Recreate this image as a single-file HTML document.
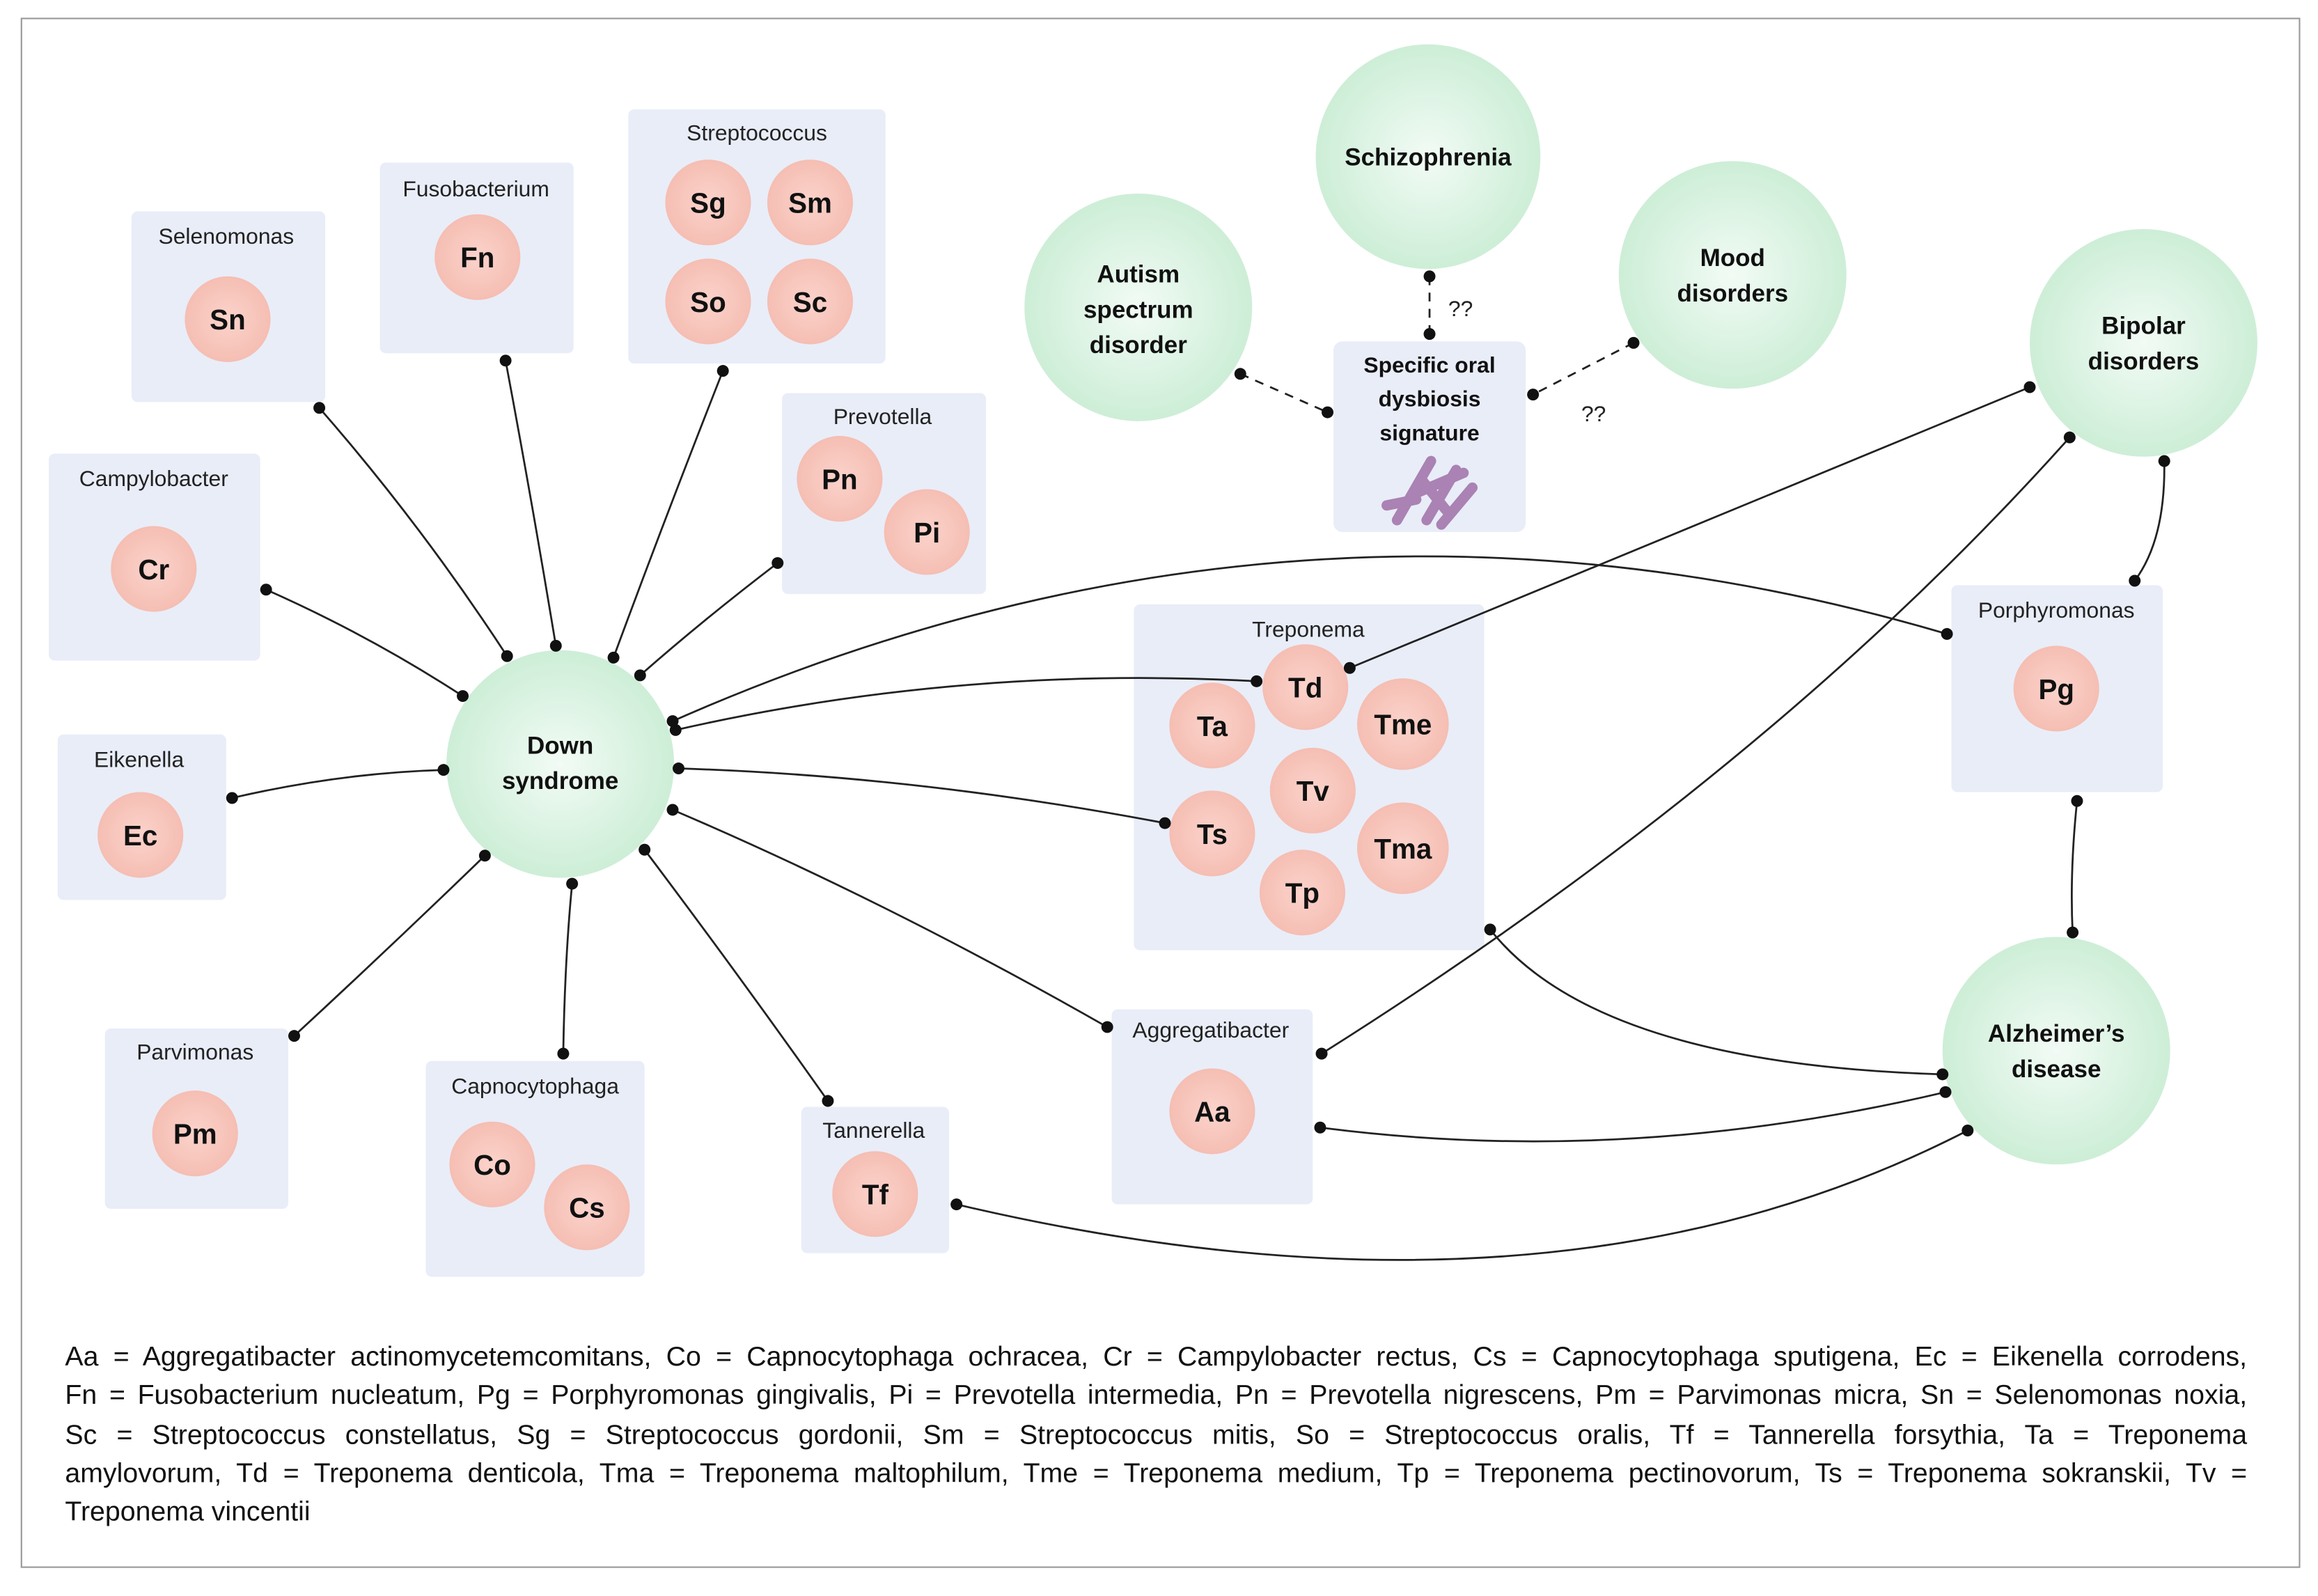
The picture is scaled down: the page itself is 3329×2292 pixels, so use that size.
<!DOCTYPE html>
<html><head><meta charset="utf-8"><style>
html,body{margin:0;padding:0;background:#fff;}
#wrap{width:1568px;height:1080px;position:relative;transform:scale(2.1231,2.1222);transform-origin:0 0;font-family:"Liberation Sans",sans-serif;}
svg{position:absolute;left:0;top:0;}
.leg{position:absolute;left:44px;width:1476px;font-size:18.5px;color:#111;}
.leg div{height:26.3px;line-height:26.3px;text-align:justify;text-align-last:justify;white-space:nowrap;}
.leg div.last{text-align-last:left;}
</style></head><body><div id="wrap">
<svg width="1568" height="1080" viewBox="0 0 1568 1080" font-family="Liberation Sans, sans-serif">
<defs>
<radialGradient id="g" cx="50%" cy="50%" r="50%"><stop offset="0" stop-color="#f2fbf5"/><stop offset="1" stop-color="#cdeed7"/></radialGradient>
<radialGradient id="p" cx="50%" cy="50%" r="50%"><stop offset="0" stop-color="#fbd3cb"/><stop offset="1" stop-color="#f5beb3"/></radialGradient>
</defs>
<rect x="14.5" y="12.5" width="1541" height="1048" fill="#fff" stroke="#999" stroke-width="1"/>
<g fill="#e9edf8">
<rect x="89" y="143" width="131" height="129" rx="4"/>
<rect x="257" y="110" width="131" height="129" rx="4"/>
<rect x="425" y="74" width="174" height="172" rx="4"/>
<rect x="529" y="266" width="138" height="136" rx="4"/>
<rect x="33" y="307" width="143" height="140" rx="4"/>
<rect x="39" y="497" width="114" height="112" rx="4"/>
<rect x="71" y="696" width="124" height="122" rx="4"/>
<rect x="288" y="718" width="148" height="146" rx="4"/>
<rect x="542" y="749" width="100" height="99" rx="4"/>
<rect x="752" y="683" width="136" height="132" rx="4"/>
<rect x="767" y="409" width="237" height="234" rx="4"/>
<rect x="1320" y="396" width="143" height="140" rx="4"/>
<rect x="902" y="231" width="130" height="129" rx="6"/>
</g>
<g fill="url(#g)">
<circle cx="379" cy="517" r="77"/><circle cx="966" cy="106" r="76"/><circle cx="770" cy="208" r="77"/>
<circle cx="1172" cy="186" r="77"/><circle cx="1450" cy="232" r="77"/><circle cx="1391" cy="711" r="77"/>
</g>
<g fill="url(#p)">
<circle cx="154" cy="216" r="29"/><circle cx="323" cy="174" r="29"/>
<circle cx="479" cy="137" r="29"/><circle cx="548" cy="137" r="29"/><circle cx="479" cy="204" r="29"/><circle cx="548" cy="204" r="29"/>
<circle cx="568" cy="324" r="29"/><circle cx="627" cy="360" r="29"/><circle cx="104" cy="385" r="29"/>
<circle cx="95" cy="565" r="29"/><circle cx="132" cy="767" r="29"/><circle cx="333" cy="788" r="29"/><circle cx="397" cy="817" r="29"/>
<circle cx="592" cy="808" r="29"/><circle cx="820" cy="752" r="29"/>
<circle cx="883" cy="465" r="29"/><circle cx="820" cy="491" r="29"/><circle cx="949" cy="490" r="31"/><circle cx="888" cy="535" r="29"/>
<circle cx="820" cy="564" r="29"/><circle cx="949" cy="574" r="31"/><circle cx="881" cy="604" r="29"/><circle cx="1391" cy="466" r="29"/>
</g>
<g stroke="#a070a8" stroke-width="7" stroke-linecap="round" opacity="0.85">
<line x1="945" y1="352" x2="968" y2="312"/><line x1="955" y1="335" x2="990" y2="320"/><line x1="965" y1="352" x2="985" y2="318"/>
<line x1="975" y1="355" x2="996" y2="330"/><line x1="938" y1="342" x2="958" y2="338"/><line x1="962" y1="325" x2="978" y2="345"/>
</g>
<g stroke="#222" stroke-width="1.3" fill="none">
<path d="M216,276 Q285,355 343,444"/><path d="M342,244 Q360,340 376,437"/><path d="M489,251 Q450,350 415,445"/>
<path d="M526,381 Q475,420 433,457"/><path d="M180,399 Q250,430 313,471"/><path d="M157,540 Q230,523 300,521"/>
<path d="M199,701 Q265,640 328,579"/><path d="M381,713 Q382,650 387,598"/><path d="M560,745 Q500,660 436,575"/>
<path d="M749,695 Q600,610 455,548"/><path d="M788,557 Q620,525 459,520"/><path d="M850,461 Q650,450 457,494"/>
<path d="M455,488 Q880,300 1317,429"/><path d="M913,452 L1373,262"/><path d="M894,713 Q1200,520 1400,296"/>
<path d="M893,763 Q1100,790 1316,739"/><path d="M647,815 Q1050,910 1331,765"/><path d="M1008,629 Q1080,720 1314,727"/>
<path d="M1464,312 Q1465,365 1444,393"/><path d="M1405,542 Q1400,590 1402,631"/>
</g>
<g stroke="#222" stroke-width="1.3" fill="none" stroke-dasharray="6,5">
<path d="M967,187 L967,226"/><path d="M839,253 L898,279"/><path d="M1105,232 L1037,267"/>
</g>
<g fill="#111">
<circle cx="216" cy="276" r="4"/><circle cx="343" cy="444" r="4"/><circle cx="342" cy="244" r="4"/><circle cx="376" cy="437" r="4"/>
<circle cx="489" cy="251" r="4"/><circle cx="415" cy="445" r="4"/><circle cx="526" cy="381" r="4"/><circle cx="433" cy="457" r="4"/>
<circle cx="180" cy="399" r="4"/><circle cx="313" cy="471" r="4"/><circle cx="157" cy="540" r="4"/><circle cx="300" cy="521" r="4"/>
<circle cx="199" cy="701" r="4"/><circle cx="328" cy="579" r="4"/><circle cx="381" cy="713" r="4"/><circle cx="387" cy="598" r="4"/>
<circle cx="560" cy="745" r="4"/><circle cx="436" cy="575" r="4"/><circle cx="749" cy="695" r="4"/><circle cx="455" cy="548" r="4"/>
<circle cx="788" cy="557" r="4"/><circle cx="459" cy="520" r="4"/><circle cx="850" cy="461" r="4"/><circle cx="457" cy="494" r="4"/>
<circle cx="455" cy="488" r="4"/><circle cx="1317" cy="429" r="4"/><circle cx="913" cy="452" r="4"/><circle cx="1373" cy="262" r="4"/>
<circle cx="894" cy="713" r="4"/><circle cx="1400" cy="296" r="4"/><circle cx="893" cy="763" r="4"/><circle cx="1316" cy="739" r="4"/>
<circle cx="647" cy="815" r="4"/><circle cx="1331" cy="765" r="4"/><circle cx="1008" cy="629" r="4"/><circle cx="1314" cy="727" r="4"/>
<circle cx="1464" cy="312" r="4"/><circle cx="1444" cy="393" r="4"/><circle cx="1405" cy="542" r="4"/><circle cx="1402" cy="631" r="4"/>
<circle cx="967" cy="187" r="4"/><circle cx="967" cy="226" r="4"/><circle cx="839" cy="253" r="4"/><circle cx="898" cy="279" r="4"/>
<circle cx="1105" cy="232" r="4"/><circle cx="1037" cy="267" r="4"/>
</g>
<g font-size="15" fill="#222" text-anchor="middle">
<text x="153" y="165">Selenomonas</text><text x="322" y="133">Fusobacterium</text><text x="512" y="95">Streptococcus</text>
<text x="597" y="287">Prevotella</text><text x="104" y="329">Campylobacter</text><text x="94" y="519">Eikenella</text>
<text x="132" y="717">Parvimonas</text><text x="362" y="740">Capnocytophaga</text><text x="591" y="770">Tannerella</text>
<text x="819" y="702">Aggregatibacter</text><text x="885" y="431">Treponema</text><text x="1391" y="418">Porphyromonas</text>
<text x="988" y="214">??</text><text x="1078" y="285">??</text>
</g>
<g font-size="19" font-weight="bold" fill="#111" text-anchor="middle">
<text x="154" y="223">Sn</text><text x="323" y="181">Fn</text><text x="479" y="144">Sg</text><text x="548" y="144">Sm</text>
<text x="479" y="211">So</text><text x="548" y="211">Sc</text><text x="568" y="331">Pn</text><text x="627" y="367">Pi</text>
<text x="104" y="392">Cr</text><text x="95" y="572">Ec</text><text x="132" y="774">Pm</text><text x="333" y="795">Co</text>
<text x="397" y="824">Cs</text><text x="592" y="815">Tf</text><text x="820" y="759">Aa</text><text x="883" y="472">Td</text>
<text x="820" y="498">Ta</text><text x="949" y="497">Tme</text><text x="888" y="542">Tv</text><text x="820" y="571">Ts</text>
<text x="949" y="581">Tma</text><text x="881" y="611">Tp</text><text x="1391" y="473">Pg</text>
</g>
<g font-size="16.5" font-weight="bold" fill="#111" text-anchor="middle">
<text x="379" y="510">Down</text><text x="379" y="534">syndrome</text>
<text x="966" y="112">Schizophrenia</text>
<text x="770" y="191">Autism</text><text x="770" y="215">spectrum</text><text x="770" y="239">disorder</text>
<text x="1172" y="180">Mood</text><text x="1172" y="204">disorders</text>
<text x="1450" y="226">Bipolar</text><text x="1450" y="250">disorders</text>
<text x="1391" y="705">Alzheimer’s</text><text x="1391" y="729">disease</text>
<text x="967" y="252" font-size="15">Specific oral</text><text x="967" y="275" font-size="15">dysbiosis</text><text x="967" y="298" font-size="15">signature</text>
</g>
</svg>
<div class="leg" style="top:905px">
<div>Aa = Aggregatibacter actinomycetemcomitans, Co = Capnocytophaga ochracea, Cr = Campylobacter rectus, Cs = Capnocytophaga sputigena, Ec = Eikenella corrodens,</div>
<div>Fn = Fusobacterium nucleatum, Pg = Porphyromonas gingivalis, Pi = Prevotella intermedia, Pn = Prevotella nigrescens, Pm = Parvimonas micra, Sn = Selenomonas noxia,</div>
<div>Sc = Streptococcus constellatus, Sg = Streptococcus gordonii, Sm = Streptococcus mitis, So = Streptococcus oralis, Tf = Tannerella forsythia, Ta = Treponema</div>
<div>amylovorum, Td = Treponema denticola, Tma = Treponema maltophilum, Tme = Treponema medium, Tp = Treponema pectinovorum, Ts = Treponema sokranskii, Tv =</div>
<div class="last">Treponema vincentii</div>
</div>
</div></body></html>
